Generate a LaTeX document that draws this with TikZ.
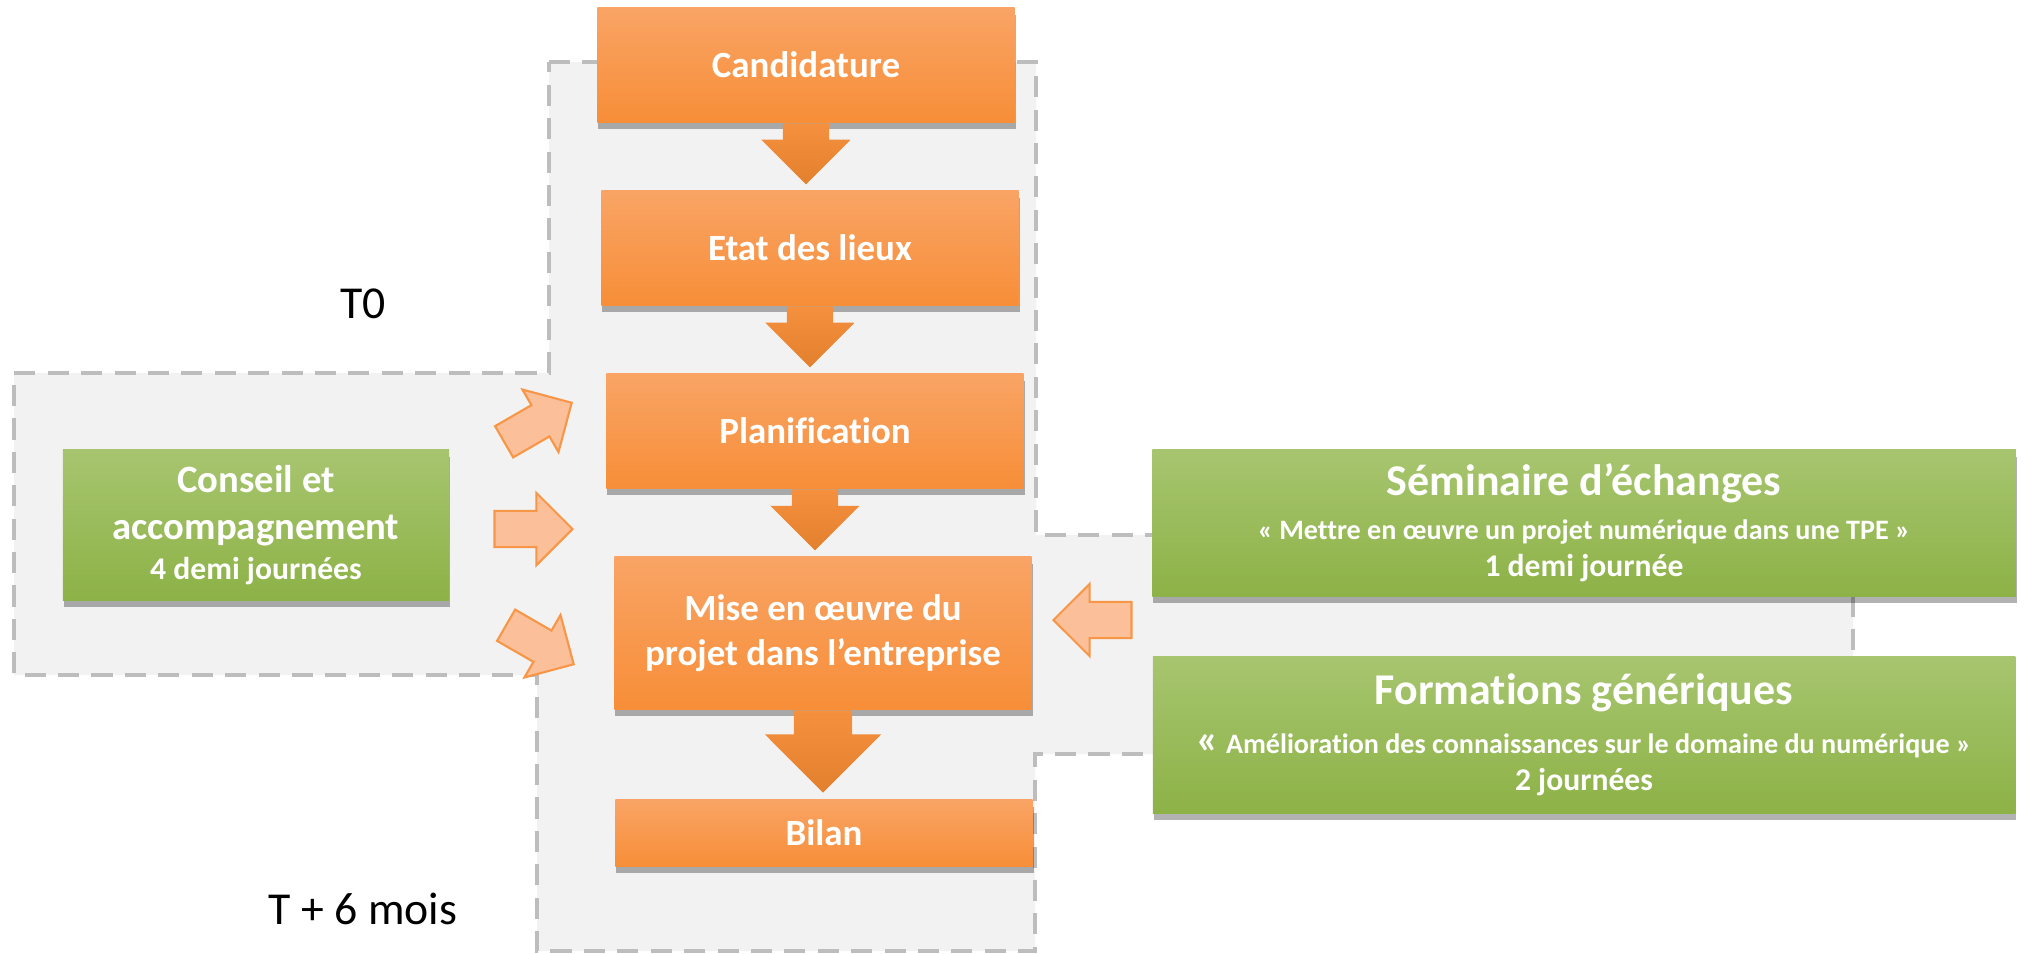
\documentclass[tikz,border=0pt]{standalone}
\usepackage{fontspec}
\setmainfont{Carlito}[Ligatures=CommonOff]
\usetikzlibrary{shapes.arrows,shadows}

\definecolor{orangetop}{HTML}{F9A465}
\definecolor{orangebot}{HTML}{F78E38}
\definecolor{arrowtop}{HTML}{F5903E}
\definecolor{arrowbot}{HTML}{E3802D}
\definecolor{greentop}{HTML}{A7C56F}
\definecolor{greenbot}{HTML}{8DB247}
\definecolor{peachfill}{HTML}{FBBF99}
\definecolor{peachline}{HTML}{F79646}
\definecolor{zonefill}{HTML}{F2F2F2}
\definecolor{zoneline}{HTML}{BDBDBD}

\begin{document}
\begin{tikzpicture}[x=0.01cm,y=-0.01cm,
    boxshadow/.style={drop shadow={shadow xshift=0.3pt,shadow yshift=-2pt,fill=black,opacity=0.3}},
    stagebox/.style={top color=orangetop,bottom color=orangebot,text=white,
      font=\fontsize{10.5}{12.8}\selectfont\bfseries,align=center,
      minimum width=4.17cm,inner sep=0pt,boxshadow},
    helpbox/.style={top color=greentop,bottom color=greenbot,text=white,
      align=center,inner sep=0pt,boxshadow},
    downarrow/.style={single arrow,rotate=-90,anchor=tail,top color=arrowtop,bottom color=arrowbot,
      inner xsep=0pt,inner ysep=0.225cm,single arrow head extend=0.215cm,minimum height=0.61cm},
    sidearrow/.style={single arrow,anchor=tip,fill=peachfill,draw=peachline,line width=0.6pt,
      inner xsep=0pt,inner ysep=0.17cm,single arrow head extend=0.18cm,minimum height=0.78cm},
    zone/.style={fill=zonefill,draw=zoneline,line width=0.9pt,dash pattern=on 6pt off 3.5pt},
    timelabel/.style={font=\fontsize{13}{15}\selectfont}
  ]
  \useasboundingbox (0,0) rectangle (2029,954);

  % grey zone behind the steps
  \draw[zone] (549,62) -- (1036,62) -- (1036,535) -- (1853,535) -- (1853,754) -- (1035,754)
    -- (1035,951) -- (537,951) -- (537,675) -- (14,675) -- (14,373) -- (549,373) -- cycle;

  % steps
  \node[stagebox,minimum height=1.14cm] (cand) at (806,65) {Candidature};
  \node[stagebox,minimum height=1.14cm] (etat) at (810,248) {Etat des lieux};
  \node[stagebox,minimum height=1.14cm] (plan) at (815,431) {Planification};
  \node[stagebox,minimum height=1.52cm] (mise) at (823,633) {Mise en œuvre du\\projet dans l’entreprise};
  \node[stagebox,minimum height=0.66cm] (bilan) at (824,833) {Bilan};

  % support
  \node[helpbox,font=\fontsize{11}{13.4}\selectfont\bfseries,minimum width=3.86cm,minimum height=1.5cm] (cons) at (256,525)
    {Conseil et\\accompagnement\\[-2pt]\fontsize{9}{11}\selectfont 4 demi journées};
  \node[helpbox,font=\fontsize{8}{10.5}\selectfont\bfseries,minimum width=8.63cm,minimum height=1.46cm] (semi) at (1584,523)
    {\fontsize{12.5}{14}\selectfont Séminaire d’échanges\\[2pt]
     « Mettre en œuvre un projet numérique dans une TPE »\\
     \fontsize{9}{11}\selectfont 1 demi journée};
  \node[helpbox,font=\fontsize{8}{10.5}\selectfont\bfseries,minimum width=8.62cm,minimum height=1.56cm] (form) at (1584,735)
    {\fontsize{12.5}{14}\selectfont Formations génériques\\[3.5pt]
     {\fontsize{12}{12}\selectfont«} Amélioration des connaissances sur le domaine du numérique »\\
     \fontsize{9}{11}\selectfont 2 journées};

  % arrows
  \node[downarrow] (a1) at (cand.south) {};
  \node[downarrow] (a2) at (etat.south) {};
  \node[downarrow] (a3) at (plan.south) {};
  \node[downarrow,inner ysep=0.285cm,single arrow head extend=0.29cm,minimum height=0.82cm] (a4) at (mise.south) {};
  \node[sidearrow,rotate=30] (s1) at (573,402) {};
  \node[sidearrow] (s2) at (574,529) {};
  \node[sidearrow,rotate=-30] (s3) at (575,665) {};
  \node[sidearrow,rotate=180] (s4) at (1052,620) {};

  \node[timelabel] (t0) at (363,304) {T0};
  \node[timelabel] (t6) at (363,909) {T + 6 mois};
\end{tikzpicture}
\end{document}
